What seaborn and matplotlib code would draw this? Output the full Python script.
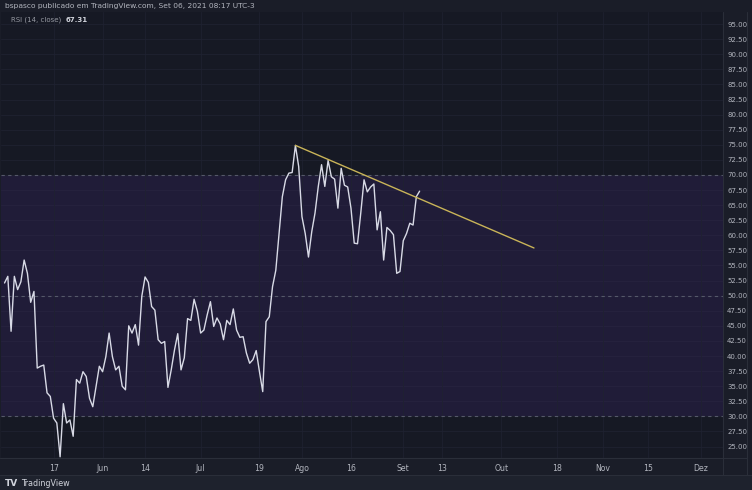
import pandas as pd
import matplotlib
matplotlib.use("Agg")
import matplotlib.pyplot as plt
import seaborn as sns

# daily RSI(14) values, 2021-05-02 .. 2021-09-06
start_date = "2021-05-02"
rsi_values = [
    52.1, 53.2, 44.1, 53.2, 51.0, 52.3, 55.9, 53.7, 48.9, 50.7,
    38.0, 38.3, 38.5, 33.9, 33.3, 29.7, 28.9, 23.3, 32.1, 28.9,
    29.4, 26.7, 36.1, 35.5, 37.4, 36.6, 33.0, 31.6, 35.0, 38.3,
    37.4, 39.9, 43.8, 39.9, 37.7, 38.3, 35.0, 34.4, 45.0, 43.8,
    45.2, 41.8, 49.9, 53.1, 52.2, 48.2, 47.6, 42.7, 42.1, 42.4,
    34.8, 37.7, 41.0, 43.7, 37.7, 39.7, 46.2, 45.9, 49.4, 47.4,
    43.8, 44.3, 46.8, 49.0, 44.9, 46.3, 45.3, 42.7, 45.9, 45.2,
    47.8, 44.3, 43.1, 43.2, 40.5, 38.8, 39.4, 40.9, 37.4, 34.1,
    45.7, 46.5, 51.5, 54.2, 60.3, 66.4, 69.2, 70.3, 70.4, 74.9,
    71.4, 63.1, 60.3, 56.4, 60.6, 63.7, 68.1, 71.7, 68.1, 72.4,
    69.7, 69.3, 64.5, 71.1, 68.3, 68.0, 64.5, 58.7, 58.6, 63.7,
    69.2, 67.2, 68.0, 68.5, 60.9, 63.9, 55.9, 61.3, 60.8, 60.1,
    53.7, 54.0, 59.1, 60.3, 62.0, 61.7, 66.4, 67.31,
]
trend_dates = ["2021-07-30", "2021-10-11"]
trend_values = [74.9, 57.9]

tick_dates = ["2021-05-17", "2021-06-01", "2021-06-14", "2021-07-01", "2021-07-19",
              "2021-08-01", "2021-08-16", "2021-09-01", "2021-09-13", "2021-10-01",
              "2021-10-18", "2021-11-01", "2021-11-15", "2021-12-01"]
tick_labels = ["17", "Jun", "14", "Jul", "19", "Ago", "16", "Set", "13", "Out",
               "18", "Nov", "15", "Dez"]
y_ticks = [25 + 2.5 * k for k in range(29)]

BG = "#161924"
BAND = "#201c38"
TXT = "#b2b5be"
GRID = "#1f2231"
BAND_GRID = "#27233f"

df = pd.DataFrame({
    "date": pd.date_range(start_date, periods=len(rsi_values), freq="D"),
    "rsi": rsi_values,
})
trend = pd.DataFrame({"date": pd.to_datetime(trend_dates), "rsi": trend_values})

sns.set_style("dark")
plt.rcParams["font.family"] = ["DejaVu Sans"]

W, H = 752, 490
fig = plt.figure(figsize=(W / 100, H / 100), dpi=100)
fig.patch.set_facecolor("#1a1d28")

ax = fig.add_axes([1 / W, (H - 458) / H, 722 / W, (458 - 12) / H])
ax.set_facecolor(BG)

ax.axhspan(30, 70, color=BAND, zorder=0, lw=0)
for yt in y_ticks:
    ax.axhline(yt, color=BAND_GRID if 30 < yt < 70 else GRID, lw=0.6, zorder=0.5)
for d in tick_dates:
    ax.axvline(pd.Timestamp(d), color=GRID, lw=0.6, zorder=0.5, alpha=0.9)
for lvl in [30, 50, 70]:
    ax.axhline(lvl, color="#555869", lw=0.8, ls=(0, (3, 3)), zorder=1)

sns.lineplot(data=df, x="date", y="rsi", ax=ax, color="#d8dae6", lw=1.0, zorder=3)
sns.lineplot(data=trend, x="date", y="rsi", ax=ax, color="#c9b458", lw=1.0, zorder=4)

ax.set_xlim(pd.Timestamp("2021-04-30 22:00"), pd.Timestamp("2021-12-07 20:00"))
ax.set_ylim(23.1, 97.0)
ax.set_xlabel("")
ax.set_ylabel("")

ax.yaxis.tick_right()
ax.set_yticks(y_ticks)
ax.set_yticklabels([f"{v:.2f}" for v in y_ticks])
ax.set_xticks(pd.to_datetime(tick_dates))
ax.set_xticklabels(tick_labels)
ax.tick_params(axis="y", length=0, pad=3, labelsize=5.0, colors=TXT)
ax.tick_params(axis="x", length=0, pad=4, labelsize=5.6, colors=TXT)
for s in ax.spines.values():
    s.set_visible(False)
ax.grid(False)

# separators like the chart frame
fig.add_artist(plt.Line2D([723 / W, 723 / W], [(H - 475) / H, (H - 12) / H], color="#2a2e39", lw=0.8))
fig.add_artist(plt.Line2D([747 / W, 747 / W], [(H - 475) / H, (H - 12) / H], color="#2a2e39", lw=0.8))
fig.add_artist(plt.Line2D([0, 747 / W], [(H - 458) / H, (H - 458) / H], color="#2a2e39", lw=0.8))
fig.add_artist(plt.Line2D([0, 1], [(H - 475) / H, (H - 475) / H], color="#2a2e39", lw=0.8))
fig.add_artist(plt.Rectangle((0, 0), 1, 15 / H, color="#1e222d", transform=fig.transFigure, zorder=-1))

fig.text(5 / W, 1 - 6 / H, "bspasco publicado em TradingView.com, Set 06, 2021 08:17 UTC-3",
         fontsize=5.4, color=TXT, va="center", ha="left")
lbl = ax.text(10 / 722, 1 - 8 / 446, "RSI (14, close)", transform=ax.transAxes,
              fontsize=5.0, color="#9598a1", va="center", ha="left")
ax.annotate("67.31", xy=(1, 0.5), xycoords=lbl, xytext=(3, 0), textcoords="offset points",
            fontsize=5.0, color="#d1d4dc", fontweight="bold", va="center", ha="left")
tv = fig.text(5 / W, 7 / H, "TV", fontsize=6.5, color="#d1d4dc", fontweight="bold", va="center", ha="left")
fig.text(21 / W, 7 / H, "TradingView", fontsize=5.8, color="#d1d4dc", va="center", ha="left")

fig.savefig("out.png", dpi=100, facecolor=fig.get_facecolor())
